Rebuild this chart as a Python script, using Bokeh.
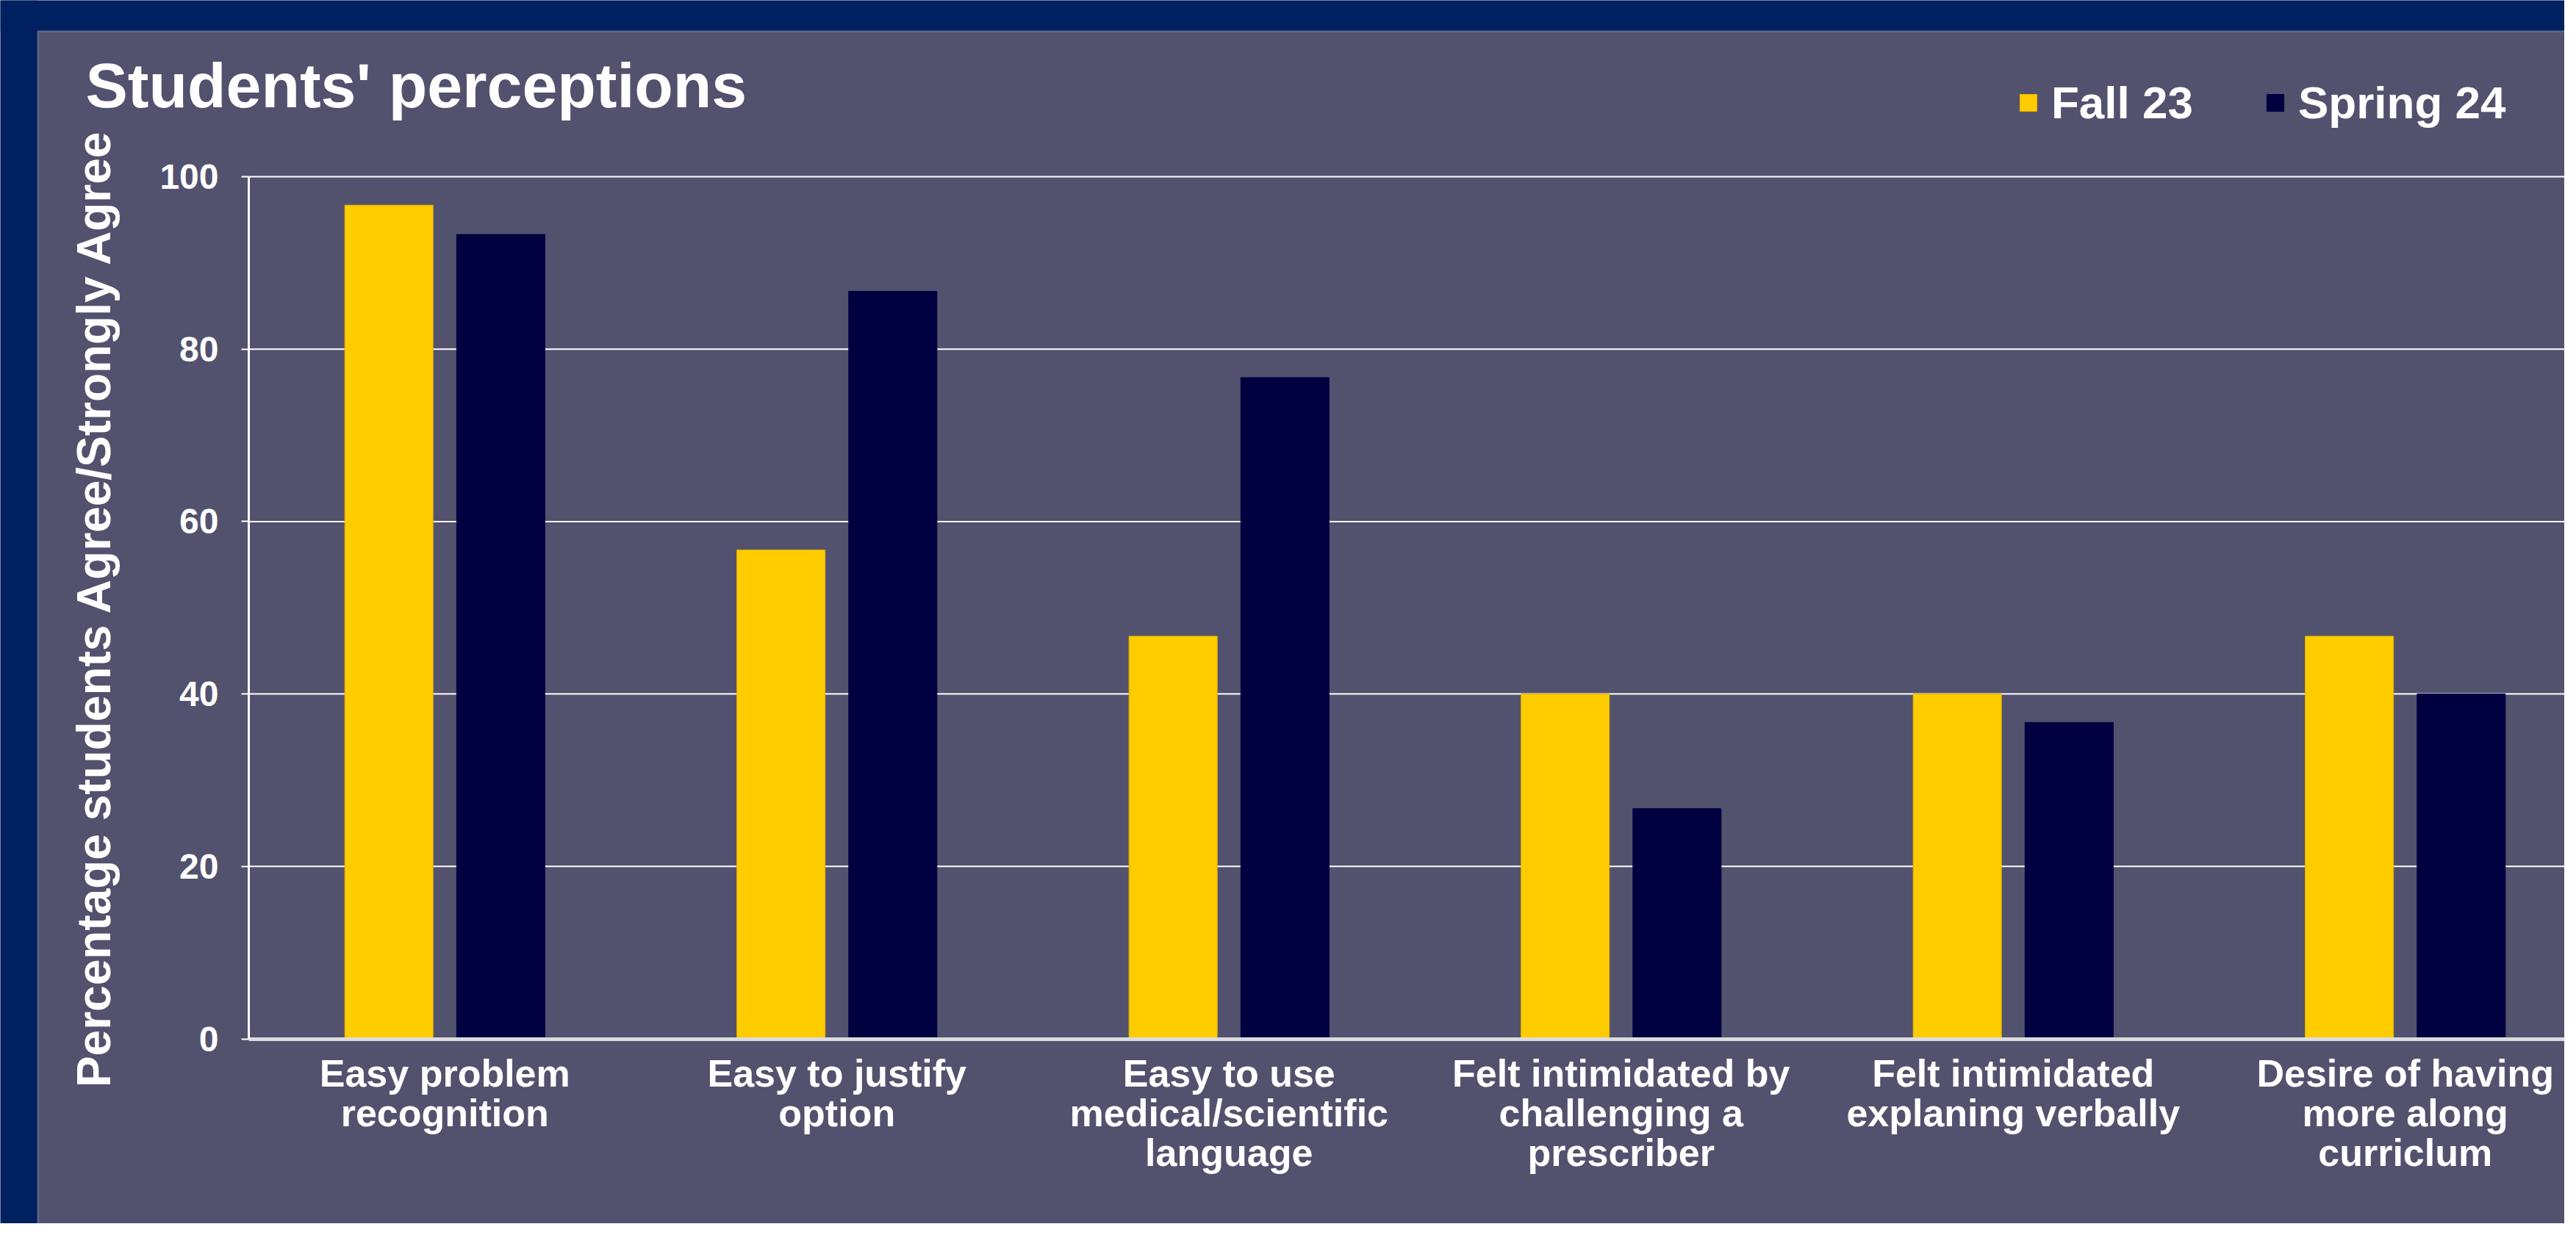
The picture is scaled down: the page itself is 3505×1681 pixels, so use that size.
from bokeh.plotting import figure
from bokeh.models import (Range1d, FixedTicker, BoxAnnotation, Label, Legend,
                          ColumnDataSource)
from bokeh.transform import dodge
from bokeh.embed import file_html
from bokeh.resources import INLINE

# ---------------- data ----------------
categories = [
    "Easy problem\nrecognition",
    "Easy to justify\noption",
    "Easy to use\nmedical/scientific\nlanguage",
    "Felt intimidated by\nchallenging a\nprescriber",
    "Felt intimidated\nexplaning verbally",
    "Desire of having\nmore along\ncurriclum",
]
fall_23 = [96.7, 56.7, 46.7, 40.0, 40.0, 46.7]
spring_24 = [93.3, 86.7, 76.7, 26.7, 36.7, 40.0]
series_names = ["Fall 23", "Spring 24"]
y_ticks = [0, 20, 40, 60, 80, 100]
title_text = "Students' perceptions"
y_title = "Percentage students Agree/Strongly Agree"

# ---------------- style / layout ----------------
NAVY_BG = "#002060"
PANEL = "#52526E"
YELLOW = "#FFCC00"
DARK = "#000040"
FONT = "Liberation Sans"

W, H = 3489, 1665
AXIS_X, ZERO_Y, TOP_Y = 338, 1413.5, 240      # canvas px of x=0, y=0, y=100
CAT_PX = 533.5                                # px per category
Y_PX = (ZERO_Y - TOP_Y) / 100.0               # px per percent

x_start = -AXIS_X / CAT_PX
x_end = x_start + W / CAT_PX
y_end = 100 + TOP_Y / Y_PX
y_start = -(H - ZERO_Y) / Y_PX

xpos = [i + 0.5 for i in range(len(categories))]
src = ColumnDataSource(dict(x=xpos, fall=fall_23, spring=spring_24))

p = figure(width=W, height=H, output_backend="svg", toolbar_location=None,
           title=None,
           x_range=Range1d(x_start, x_end), y_range=Range1d(y_start, y_end),
           min_border_left=0, min_border_right=0, min_border_top=0,
           min_border_bottom=0)
p.background_fill_color = PANEL
p.border_fill_color = PANEL
p.outline_line_color = None
p.xgrid.visible = False
p.ygrid.visible = False

# navy slide border (top and left strips) + thin light panel outline
p.add_layout(BoxAnnotation(bottom=H - 42, bottom_units="screen",
                           fill_color=NAVY_BG, fill_alpha=1, line_color=None,
                           level="underlay"))
p.add_layout(BoxAnnotation(right=51, right_units="screen",
                           fill_color=NAVY_BG, fill_alpha=1, line_color=None,
                           level="underlay"))
p.add_layout(BoxAnnotation(left=51, right=W + 100, top=H - 42, bottom=-100,
                           left_units="screen", right_units="screen",
                           top_units="screen", bottom_units="screen",
                           fill_alpha=0, line_color="#D8D8E0", line_width=2,
                           level="underlay"))

# horizontal gridlines (from the y axis to the right edge)
p.segment(x0=[0] * len(y_ticks), x1=[x_end] * len(y_ticks), y0=y_ticks, y1=y_ticks,
          line_color="white", line_width=2)

# bars
r1 = p.vbar(x=dodge("x", -0.1426, range=p.x_range), top="fall", width=0.225, source=src,
            fill_color=YELLOW, line_color="#E0B400", line_width=1)
r2 = p.vbar(x=dodge("x", 0.1426, range=p.x_range), top="spring", width=0.225, source=src,
            fill_color=DARK, line_color=DARK, line_width=1)

# y axis (drawn at x = 0 inside the frame)
ya = p.yaxis[0]
ya.fixed_location = 0
ya.bounds = (0, 100)
ya.ticker = FixedTicker(ticks=y_ticks)
ya.axis_line_color = "white"
ya.axis_line_width = 3
ya.major_tick_line_color = "white"
ya.major_tick_line_width = 2
ya.major_tick_out = 10
ya.major_tick_in = 0
ya.minor_tick_line_color = None
ya.major_label_text_font = FONT
ya.major_label_text_font_style = "bold"
ya.major_label_text_font_size = "48px"
ya.major_label_text_color = "white"
ya.major_label_standoff = 31
ya.axis_label = y_title
ya.axis_label_text_font = FONT
ya.axis_label_text_font_style = "bold"
ya.axis_label_text_font_size = "64px"
ya.axis_label_text_color = "white"
ya.axis_label_standoff = 50

# x axis (drawn at y = 0)
xa = p.xaxis[0]
xa.fixed_location = 0
xa.bounds = (0, x_end)
xa.ticker = FixedTicker(ticks=xpos)
xa.major_label_overrides = {x: c for x, c in zip(xpos, categories)}
xa.axis_line_color = "#DCDCE0"
xa.axis_line_width = 5
xa.major_tick_line_color = None
xa.minor_tick_line_color = None
xa.major_label_text_font = FONT
xa.major_label_text_font_style = "bold"
xa.major_label_text_font_size = "52px"
xa.major_label_text_color = "white"
xa.major_label_text_line_height = 0.93
xa.major_label_standoff = 12

# title
p.add_layout(Label(x=116, y=H - 115, x_units="screen", y_units="screen",
                   text=title_text, text_font=FONT, text_font_style="bold",
                   text_font_size="86px", text_color="white",
                   text_baseline="alphabetic", text_align="left"))

# legend
legend = Legend(items=[(series_names[0], [r1]), (series_names[1], [r2])],
                orientation="horizontal", location=(2745, H - 175),
                glyph_width=29, glyph_height=29, label_standoff=17, spacing=97,
                padding=0, margin=0, border_line_color=None,
                background_fill_alpha=0,
                label_text_font=FONT, label_text_font_style="bold",
                label_text_font_size="62px", label_text_color="white")
p.add_layout(legend)

open("out.html", "w").write(file_html(p, INLINE))
